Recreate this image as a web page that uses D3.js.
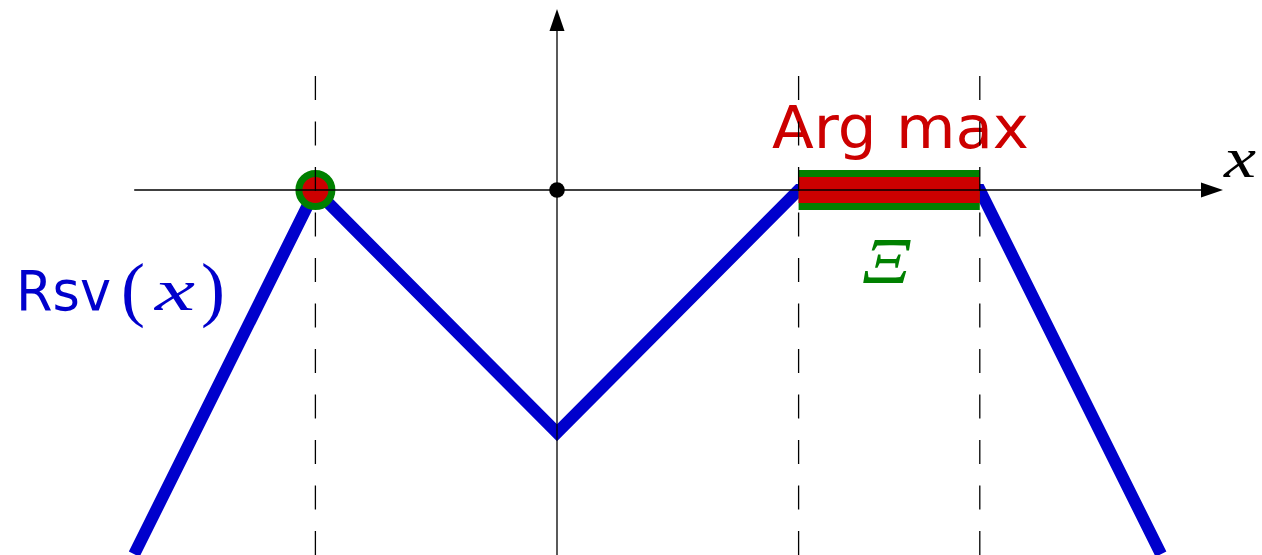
<!DOCTYPE html>
<html>
<head>
<meta charset="utf-8">
<script src="https://cdn.jsdelivr.net/npm/d3@7"></script>
<style>
  html, body { margin: 0; padding: 0; background: #fff; }
  svg { display: block; }
</style>
</head>
<body>
<svg id="chart" width="1262" height="555"></svg>
<script>
// Piecewise-linear function Rsv(x): breakpoints (x, y)
const rsvX = [-7, -4, 0, 4, 7, 10];
const rsvY = [-6, 0, -4, 0, 0, -6];

// Vertical reference lines
const guideX = [-4, 4, 7];

// Isolated maximiser and the maximising interval
const maxPoints = [-4];
const argmaxInterval = [4, 7];

// Axis extents
const xDomain = [-7, 11];
const yDomain = [-6, 3];

const W = 1262, H = 555;
const originX = 557, originY = 190;
const unitX = 60.4, unitY = 60.7;

const BLUE = "#0000cc", RED = "#cc0000", GREEN = "#008000";

const svg = d3.select("#chart");

const x = d3.scaleLinear()
  .domain(xDomain)
  .range([originX + xDomain[0] * unitX, originX + xDomain[1] * unitX]);
const y = d3.scaleLinear()
  .domain(yDomain)
  .range([originY - yDomain[0] * unitY, originY - yDomain[1] * unitY]);

const pts = rsvX.map((v, i) => [v, rsvY[i]]);

// Rsv(x) graph
svg.append("path")
  .datum(pts)
  .attr("d", d3.line().x(d => x(d[0])).y(d => y(d[1])))
  .attr("fill", "none")
  .attr("stroke", BLUE)
  .attr("stroke-width", 12)
  .attr("stroke-linejoin", "miter")
  .attr("stroke-linecap", "butt");

// Argmax interval: green band with red core
svg.append("line")
  .attr("x1", x(argmaxInterval[0])).attr("x2", x(argmaxInterval[1]))
  .attr("y1", y(0)).attr("y2", y(0))
  .attr("stroke", GREEN).attr("stroke-width", 40);
svg.append("line")
  .attr("x1", x(argmaxInterval[0])).attr("x2", x(argmaxInterval[1]))
  .attr("y1", y(0)).attr("y2", y(0))
  .attr("stroke", RED).attr("stroke-width", 26);

// Isolated maximiser
svg.selectAll("circle.maxpt")
  .data(maxPoints)
  .join("circle")
  .attr("class", "maxpt")
  .attr("cx", d => x(d)).attr("cy", y(0))
  .attr("r", 16.5)
  .attr("fill", RED)
  .attr("stroke", GREEN)
  .attr("stroke-width", 7);

// Labels
svg.append("text")
  .attr("x", 772).attr("y", 148)
  .attr("font-family", "DejaVu Sans")
  .attr("font-size", 59)
  .attr("fill", RED)
  .attr("textLength", 257)
  .attr("lengthAdjust", "spacingAndGlyphs")
  .text("Arg max");

const rsv = svg.append("g").attr("fill", BLUE);
rsv.append("text")
  .attr("x", 16).attr("y", 310)
  .attr("font-family", "DejaVu Sans").attr("font-size", 56)
  .attr("textLength", 95).attr("lengthAdjust", "spacingAndGlyphs")
  .text("Rsv");
rsv.append("text")
  .attr("x", 121).attr("y", 313)
  .attr("font-family", "Liberation Serif").attr("font-size", 72)
  .text("(");
rsv.append("text")
  .attr("x", 155).attr("y", 310)
  .attr("font-family", "Liberation Serif").attr("font-style", "italic").attr("font-size", 60)
  .attr("textLength", 40).attr("lengthAdjust", "spacingAndGlyphs")
  .text("x");
rsv.append("text")
  .attr("x", 201).attr("y", 313)
  .attr("font-family", "Liberation Serif").attr("font-size", 72)
  .text(")");

svg.append("text")
  .attr("x", 862)
  .attr("y", 283)
  .attr("font-family", "Liberation Serif")
  .attr("font-style", "italic")
  .attr("font-size", 66)
  .attr("fill", GREEN)
  .attr("textLength", 49)
  .attr("lengthAdjust", "spacingAndGlyphs")
  .text("Ξ");

svg.append("text")
  .attr("x", 1224).attr("y", 177)
  .attr("font-family", "Liberation Serif")
  .attr("font-style", "italic")
  .attr("font-size", 58)
  .attr("fill", "#000")
  .attr("textLength", 32)
  .attr("lengthAdjust", "spacingAndGlyphs")
  .text("x");

// Dashed vertical guides
svg.selectAll("line.guide")
  .data(guideX)
  .join("line")
  .attr("class", "guide")
  .attr("x1", d => x(d)).attr("x2", d => x(d))
  .attr("y1", 76).attr("y2", H)
  .attr("stroke", "#000")
  .attr("stroke-width", 1.3)
  .attr("stroke-dasharray", "24 21.5");

// Axes with arrowheads
const xEnd = 1223, yEnd = 9, headL = 22, headW = 7.5;
svg.append("line")
  .attr("x1", x(xDomain[0])).attr("x2", xEnd - headL + 1)
  .attr("y1", y(0)).attr("y2", y(0))
  .attr("stroke", "#000").attr("stroke-width", 1.3);
svg.append("path")
  .attr("d", `M${xEnd},${y(0)} L${xEnd - headL},${y(0) - headW} L${xEnd - headL},${y(0) + headW} Z`)
  .attr("fill", "#000");

svg.append("line")
  .attr("x1", x(0)).attr("x2", x(0))
  .attr("y1", H).attr("y2", yEnd + headL - 1)
  .attr("stroke", "#000").attr("stroke-width", 1.3);
svg.append("path")
  .attr("d", `M${x(0)},${yEnd} L${x(0) - headW},${yEnd + headL} L${x(0) + headW},${yEnd + headL} Z`)
  .attr("fill", "#000");

// Origin
svg.append("circle")
  .attr("cx", x(0)).attr("cy", y(0))
  .attr("r", 7.8)
  .attr("fill", "#000");
</script>
</body>
</html>
